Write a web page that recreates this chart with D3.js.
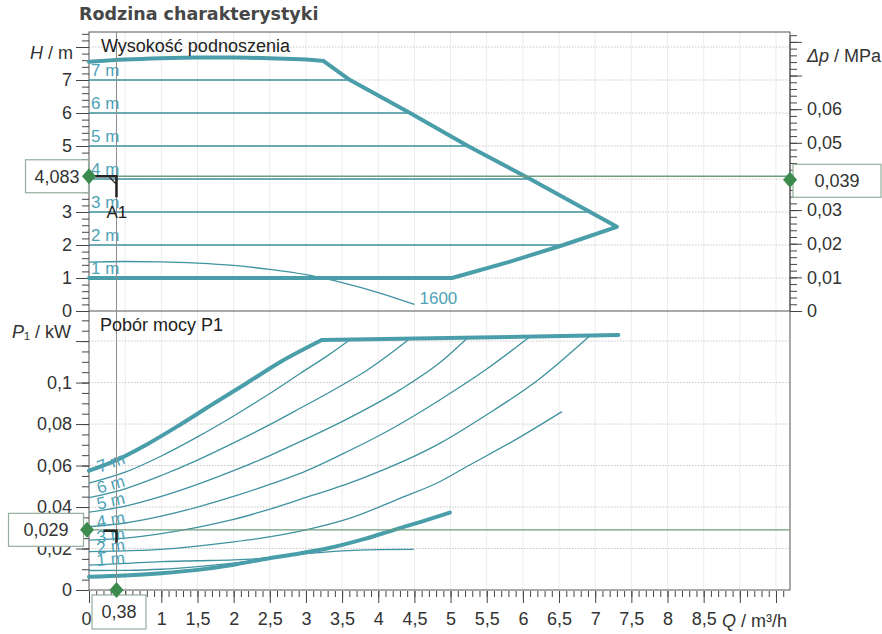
<!DOCTYPE html>
<html><head><meta charset="utf-8">
<script src="https://cdn.jsdelivr.net/npm/d3@7"></script>
<style>
body{margin:0;background:#fff}
svg{font-family:"Liberation Sans",Arial,sans-serif;display:block}
</style></head><body>
<svg id="c" width="882" height="634"></svg>
<script>
// ---------- data ----------
// tick labels visible in the reference (the others are hidden under the value boxes)
const qTicks = [0,1,1.5,2,2.5,3,3.5,4,4.5,5,5.5,6,6.5,7,7.5,8,8.5];
const hTicks = [0,1,2,3,5,6,7];
const dpTicks = [0,0.01,0.02,0.03,0.05,0.06];
const pTicks = [0,0.02,0.04,0.06,0.08,0.1];

// top chart: envelope (H / m vs Q)
const envTopQ = [0,0.5,1,1.5,2,2.5,3,3.24];
const envTopH = [7.55,7.62,7.66,7.68,7.68,7.66,7.62,7.58];
const envRestQ = [3.24,3.61,4.44,5.24,6.10,6.93,7.30,6.56,5.80,5.02,0];
const envRestH = [7.58,7.0,6.0,5.0,4.0,3.0,2.55,2.0,1.48,1.0,1.0];
// constant-head lines
const headLevels = [7,6,5,4,3,2];
const headEndQ = [3.61,4.44,5.24,6.10,6.93,6.56];
const headLabels = ["7 m","6 m","5 m","4 m","3 m","2 m","1 m"];
const headLabelH = [7,6,5,4,3,2,1];
// 1600 speed curve
const n1600Q = [0,0.5,1,1.5,2,2.5,3,3.5,4,4.5];
const n1600H = [1.48,1.5,1.49,1.45,1.38,1.26,1.1,0.86,0.56,0.2];

// bottom chart: power P1 / kW vs Q
const pMaxQ = [0,0.34,0.8,1.26,1.72,2.18,2.64,3.22];
const pMaxP = [0.0575,0.0620,0.0702,0.0797,0.0898,0.0997,0.1098,0.1205];
const pCapQ = [3.22,7.32];
const pCapP = [0.1205,0.1229];
const p7Q = [0,0.5,1,1.5,2,2.5,2.92,3.3,3.61];
const p7P = [0.0515,0.0568,0.0646,0.0738,0.0839,0.0947,0.1044,0.1130,0.1207];
const p6Q = [0,0.5,1,1.5,2,2.5,2.92,3.4,3.84,4.44];
const p6P = [0.0445,0.0488,0.0552,0.0626,0.0709,0.0797,0.0876,0.0968,0.1058,0.1212];
const p5Q = [0,0.5,1,1.5,2,2.5,2.92,3.6,4.3,4.85,5.24];
const p5P = [0.0375,0.0404,0.0451,0.0509,0.0575,0.0648,0.0715,0.0830,0.0965,0.1095,0.1217];
const p4Q = [0,0.5,1,1.5,2,2.5,2.92,3.5,4.2,4.85,5.5,6.1];
const p4P = [0.0305,0.0323,0.0356,0.0400,0.0451,0.0509,0.0562,0.0655,0.0780,0.0916,0.1065,0.1222];
const p3Q = [0,0.5,1,1.5,2,2.36,2.92,3.75,4.85,5.5,6.2,6.93];
const p3P = [0.0240,0.0250,0.0272,0.0302,0.0340,0.0375,0.0437,0.0535,0.0707,0.0845,0.1010,0.1227];
const p2Q = [0,0.5,1,1.5,2,2.36,3,3.6,4.3,4.85,5.22,5.9,6.54];
const p2P = [0.0185,0.0189,0.0196,0.0212,0.0232,0.0249,0.0290,0.0345,0.0442,0.0522,0.0594,0.0725,0.086];
const p1Q = [0,0.5,1,1.5,2,2.4];
const p1P = [0.0094,0.0095,0.0100,0.0113,0.0130,0.0147];
const pn1600Q = [0,0.5,1,1.5,2,2.5,3,3.5,4,4.49];
const pn1600P = [0.0120,0.0128,0.0137,0.0141,0.0145,0.0155,0.0175,0.0189,0.0195,0.0196];
const pMinQ = [0,0.5,1,1.5,2,2.36,2.8,3.29,3.8,4.21,4.6,4.99];
const pMinP = [0.0064,0.0070,0.0081,0.0097,0.0122,0.0145,0.0170,0.0200,0.0245,0.0289,0.0330,0.0373];
const pLabels = ["7 m","6 m","5 m","4 m","3 m","2 m","1 m"];
const pLabelP = [0.0615,0.051,0.043,0.034,0.0265,0.021,0.0150];
const pLabelRot = [-20,-16,-13,-10,-8,-7,-5];

// operating point
const opQ = 0.38, opH = 4.083, opDp = 0.039, opP = 0.029;

// ---------- scales ----------
const svg = d3.select('#c');
const x = d3.scaleLinear().domain([0,9.68]).range([89,789]);
const yH = d3.scaleLinear().domain([0,8.455]).range([311,32]);
const yDp = d3.scaleLinear().domain([0,8.455*0.00981]).range([311,32]);
const yP = d3.scaleLinear().domain([0,0.1345]).range([590,311]);
const fmt = d => (+d.toFixed(4)).toString().replace('.', ',');
const has = (arr, d) => arr.some(v => Math.abs(v - d) < 1e-9);

const TEAL = '#4a9ea9', TEAL_T = '#3f929f', LBL = '#4fa3b6';
const ink = '#333';

// ---------- grid ----------
const gGrid = svg.append('g');
const qGrid = d3.range(0.5, 9.6, 0.5);
gGrid.selectAll('.vg').data(qGrid).join('line')
  .attr('x1', d => x(d)).attr('x2', d => x(d))
  .attr('y1', yH.range()[1]).attr('y2', yP(0))
  .attr('stroke', '#ececec').attr('stroke-width', 1);
gGrid.selectAll('.hg').data(d3.range(1, 8.1, 1)).join('line')
  .attr('x1', x(0)).attr('x2', x.range()[1])
  .attr('y1', d => yH(d)).attr('y2', d => yH(d))
  .attr('stroke', '#c8c8c8').attr('stroke-dasharray', '1.5,1.5');
gGrid.selectAll('.pg').data(d3.range(0.02, 0.121, 0.02)).join('line')
  .attr('x1', x(0)).attr('x2', x.range()[1])
  .attr('y1', d => yP(d)).attr('y2', d => yP(d))
  .attr('stroke', '#c8c8c8').attr('stroke-dasharray', '1.5,1.5');

// ---------- borders ----------
svg.append('rect').attr('x', x(0)).attr('y', yH.range()[1])
  .attr('width', x.range()[1] + 1 - x(0)).attr('height', yP(0) - yH.range()[1])
  .attr('fill', 'none').attr('stroke', '#555').attr('stroke-width', 1);
svg.append('line').attr('x1', x(0)).attr('x2', x.range()[1] + 1)
  .attr('y1', yH(0)).attr('y2', yH(0)).attr('stroke', '#555');

// ---------- axes ----------
function styleAxis(g){
  g.select('.domain').remove();
  g.selectAll('line').attr('stroke', '#444');
  g.selectAll('text').attr('fill', ink).style('font-size', '18px')
   .style('font-family', '"Liberation Sans",Arial,sans-serif');
}
// top left H
svg.append('g').attr('transform', `translate(${x(0)},0)`)
  .call(d3.axisLeft(yH).tickValues(d3.range(0, 8.41, 0.2)).tickSize(7).tickFormat(''))
  .call(styleAxis);
svg.append('g').attr('transform', `translate(${x(0)},0)`)
  .call(d3.axisLeft(yH).tickValues(d3.range(0, 8.1, 1)).tickSize(13).tickPadding(4)
    .tickFormat(d => has(hTicks, d) ? fmt(d) : ''))
  .call(styleAxis);
// right Δp
const xr = x.range()[1] + 1;
svg.append('line').attr('x1', xr).attr('x2', xr).attr('y1', yH.range()[1] + 4).attr('y2', yH(0)).attr('stroke', '#555');
svg.append('g').attr('transform', `translate(${xr},0)`)
  .call(d3.axisRight(yDp).tickValues(d3.range(0, 0.0825, 0.002)).tickSize(7).tickFormat(''))
  .call(styleAxis);
svg.append('g').attr('transform', `translate(${xr},0)`)
  .call(d3.axisRight(yDp).tickValues(d3.range(0, 0.0805, 0.01)).tickSize(12).tickPadding(5)
    .tickFormat(d => has(dpTicks, d) ? fmt(d) : ''))
  .call(styleAxis);
// bottom left P
svg.append('g').attr('transform', `translate(${x(0)},0)`)
  .call(d3.axisLeft(yP).tickValues(d3.range(0, 0.1341, 0.005)).tickSize(7).tickFormat(''))
  .call(styleAxis);
svg.append('g').attr('transform', `translate(${x(0)},0)`)
  .call(d3.axisLeft(yP).tickValues(d3.range(0, 0.1201, 0.02)).tickSize(13).tickPadding(4)
    .tickFormat(d => has(pTicks, d) ? fmt(d) : ''))
  .call(styleAxis);
// bottom Q
const yB = yP(0) + 1;
svg.append('g').attr('transform', `translate(0,${yB})`)
  .call(d3.axisBottom(x).tickValues(d3.range(0, 9.65, 0.1)).tickSize(6).tickFormat(''))
  .call(styleAxis);
const gx = svg.append('g').attr('transform', `translate(0,${yB})`)
  .call(d3.axisBottom(x).tickValues(d3.range(0, 9.55, 0.5)).tickSize(12).tickPadding(9)
    .tickFormat(d => has(qTicks, d) ? fmt(d) : ''))
  .call(styleAxis);
gx.selectAll('.tick').filter(d => d === 0).select('text').attr('x', -3);

// ---------- top curves ----------
const lineH = (c) => d3.line().x(d => x(d[0])).y(d => yH(d[1])).curve(c);
const lineP = (c) => d3.line().x(d => x(d[0])).y(d => yP(d[1])).curve(c);
const zip = (a, b) => a.map((v, i) => [v, b[i]]);

headLevels.forEach((h, i) => {
  svg.append('path').attr('d', lineH(d3.curveLinear)([[0, h], [headEndQ[i], h]]))
    .attr('fill', 'none').attr('stroke', TEAL_T).attr('stroke-width', 1.5);
});
svg.append('path').attr('d', lineH(d3.curveMonotoneX)(zip(n1600Q, n1600H)))
  .attr('fill', 'none').attr('stroke', TEAL_T).attr('stroke-width', 1.3);
svg.append('path').attr('d', lineH(d3.curveMonotoneX)(zip(envTopQ, envTopH)))
  .attr('fill', 'none').attr('stroke', TEAL).attr('stroke-width', 4).attr('stroke-linecap', 'round');
svg.append('path').attr('d', lineH(d3.curveLinear)(zip(envRestQ, envRestH)))
  .attr('fill', 'none').attr('stroke', TEAL).attr('stroke-width', 4)
  .attr('stroke-linejoin', 'round').attr('stroke-linecap', 'round');

// ---------- bottom curves ----------
[[p7Q,p7P],[p6Q,p6P],[p5Q,p5P],[p4Q,p4P],[p3Q,p3P],[p2Q,p2P],[p1Q,p1P],[pn1600Q,pn1600P]].forEach(([q, p]) => {
  svg.append('path').attr('d', lineP(d3.curveMonotoneX)(zip(q, p)))
    .attr('fill', 'none').attr('stroke', TEAL_T).attr('stroke-width', 1.3);
});
svg.append('path').attr('d', lineP(d3.curveMonotoneX)(zip(pMaxQ, pMaxP)))
  .attr('fill', 'none').attr('stroke', TEAL).attr('stroke-width', 4).attr('stroke-linecap', 'round');
svg.append('path').attr('d', lineP(d3.curveLinear)(zip(pCapQ, pCapP)))
  .attr('fill', 'none').attr('stroke', TEAL).attr('stroke-width', 4).attr('stroke-linecap', 'round');
svg.append('path').attr('d', lineP(d3.curveMonotoneX)(zip(pMinQ, pMinP)))
  .attr('fill', 'none').attr('stroke', TEAL).attr('stroke-width', 4).attr('stroke-linecap', 'round');

// ---------- curve labels ----------
headLabels.forEach((t, i) => {
  svg.append('text').attr('x', x(0) + 2).attr('y', yH(headLabelH[i]) - 4)
    .text(t).attr('fill', LBL).style('font-size', '17px');
});
svg.append('text').attr('x', x(4.57)).attr('y', yH(0.2))
  .text('1600').attr('fill', LBL).style('font-size', '17px');
pLabels.forEach((t, i) => {
  const cx = x(0.3), cy = yP(pLabelP[i]);
  svg.append('text').attr('transform', `translate(${cx},${cy}) rotate(${pLabelRot[i]})`)
    .attr('text-anchor', 'middle').attr('dy', '0.35em')
    .text(t).attr('fill', LBL).style('font-size', '17px');
});

// ---------- operating point ----------
const OPC = '#6e9c7c', DIA = '#3d8a4e';
svg.append('line').attr('x1', x(opQ)).attr('x2', x(opQ)).attr('y1', yH.range()[1]).attr('y2', yP(0))
  .attr('stroke', '#8c8c8c').attr('stroke-width', 1);
svg.append('line').attr('x1', x(0)).attr('x2', xr).attr('y1', yH(opH)).attr('y2', yH(opH))
  .attr('stroke', OPC).attr('stroke-width', 1.3);
svg.append('line').attr('x1', x(0)).attr('x2', xr).attr('y1', yP(opP)).attr('y2', yP(opP))
  .attr('stroke', OPC).attr('stroke-width', 1.3);
// black A1 corner marks
svg.append('path').attr('d', `M${x(0)},${yH(opH)}H${x(opQ)}V${yH(opH) + 21}`)
  .attr('fill', 'none').attr('stroke', '#222').attr('stroke-width', 2.5);
svg.append('path').attr('d', `M${x(opQ) - 7},${yH(opH) + 1}L${x(opQ)},${yH(opH) + 8}`)
  .attr('fill', 'none').attr('stroke', '#222').attr('stroke-width', 1.2);
svg.append('path').attr('d', `M${x(opQ) - 13},${yP(opP) + 1}H${x(opQ)}V${yP(opP) + 13}`)
  .attr('fill', 'none').attr('stroke', '#222').attr('stroke-width', 2.5);
svg.append('text').attr('x', x(opQ) - 10).attr('y', yH(opH) + 42).text('A1')
  .attr('fill', '#222').style('font-size', '17px');

// boxes
function box(cx, cy, w, h, label){
  svg.append('rect').attr('x', cx - w / 2).attr('y', cy - h / 2).attr('width', w).attr('height', h)
    .attr('fill', '#fff').attr('stroke', '#93ae9c').attr('stroke-width', 1.2);
  svg.append('text').attr('x', cx).attr('y', cy).attr('dy', '0.36em').attr('text-anchor', 'middle')
    .text(label).attr('fill', ink).style('font-size', '18px');
}
box(57, yH(opH), 63, 33, fmt(opH));
box(837, yDp(opDp) + 1, 88, 33, fmt(opDp));
box(46, yP(opP), 75, 33, fmt(opP));
box(119, 612, 54, 34, fmt(opQ));

const diamond = 'M0,-8L7,0L0,8L-7,0Z';
[[x(0), yH(opH)], [xr, yDp(opDp)], [x(0) - 2, yP(opP)], [x(opQ), yP(0)]].forEach(([a, b]) => {
  svg.append('path').attr('d', diamond).attr('transform', `translate(${a},${b})`).attr('fill', DIA);
});

// ---------- titles ----------
svg.append('text').attr('x', 79).attr('y', 20).text('Rodzina charakterystyki')
  .style('font-family', '"DejaVu Sans",Verdana,sans-serif').style('font-weight', 'bold')
  .style('font-size', '17.5px').attr('fill', '#474747');
svg.append('text').attr('x', 101).attr('y', 52).text('Wysokość podnoszenia')
  .attr('fill', '#222').style('font-size', '18px');
svg.append('text').attr('x', 100).attr('y', 331).text('Pobór mocy P1')
  .attr('fill', '#222').style('font-size', '18px');

const axLab = (xx, yy, parts, anchor) => {
  const t = svg.append('text').attr('x', xx).attr('y', yy).attr('text-anchor', anchor)
    .attr('fill', ink).style('font-size', '18px');
  parts.forEach(([s, it]) => t.append('tspan').text(s).style('font-style', it ? 'italic' : 'normal'));
};
axLab(73, 59, [['H', true], [' / m', false]], 'end');
axLab(807, 62, [['Δp', true], [' / MPa', false]], 'start');
axLab(71, 338, [['P', true], ['₁ / kW', false]], 'end');
axLab(787, 627, [['Q', true], [' / m³/h', false]], 'end');
</script>
</body></html>
